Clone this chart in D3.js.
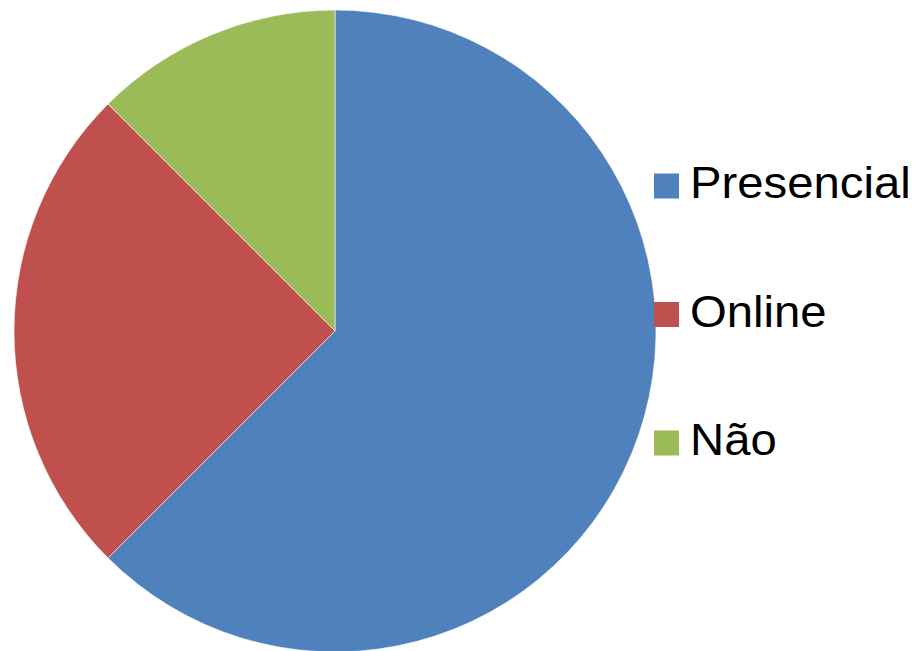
<!DOCTYPE html>
<html lang="pt">
<head>
    <meta charset="UTF-8">
    <script src="https://d3js.org/d3.v7.min.js"></script>
    <title>Pie</title>
    <style>
        body { margin: 0; background: #fff; }
    </style>
</head>
<body>
<div id="draw_here"></div>

<script type="text/javascript">

    var width = 918;
    var height = 651;

    // data
    var categories = ["Presencial", "Online", "Não"];
    var values = [62.5, 25, 12.5];
    var colors = ["#4F81BD", "#C0504D", "#9BBB59"];

    var cx = 335, cy = 331, radius = 321;

    var data = categories.map((c, i) => ({ name: c, value: values[i] }));

    var color = d3.scaleOrdinal()
        .domain(categories)
        .range(colors);

    var pie = d3.pie()
        .sort(null)
        .value(d => d.value);

    var arc = d3.arc()
        .innerRadius(0)
        .outerRadius(radius);

    var svg = d3.select("#draw_here")
        .append("svg")
        .attr("width", width)
        .attr("height", height);

    svg.append("g")
        .attr("transform", `translate(${cx},${cy})`)
        .selectAll("path")
        .data(pie(data))
        .join("path")
        .attr("d", arc)
        .attr("fill", d => color(d.data.name))
        .attr("stroke", "#fff")
        .attr("stroke-width", 0.6);

    // legend
    var legendY = d3.scalePoint()
        .domain(categories)
        .range([186, 443]);

    var legend = svg.append("g")
        .selectAll("g")
        .data(categories)
        .join("g")
        .attr("transform", d => `translate(654,${legendY(d)})`);

    legend.append("rect")
        .attr("x", 0)
        .attr("y", -12.5)
        .attr("width", 25)
        .attr("height", 25)
        .attr("fill", d => color(d));

    // text in the picture is a little wider than Arial, so stretch it a bit
    legend.append("text")
        .attr("transform", "translate(36,12) scale(1.075,1)")
        .attr("font-family", "Liberation Sans, Arial, sans-serif")
        .attr("font-size", 44)
        .attr("fill", "#000")
        .text(d => d);

</script>

</body>
</html>
